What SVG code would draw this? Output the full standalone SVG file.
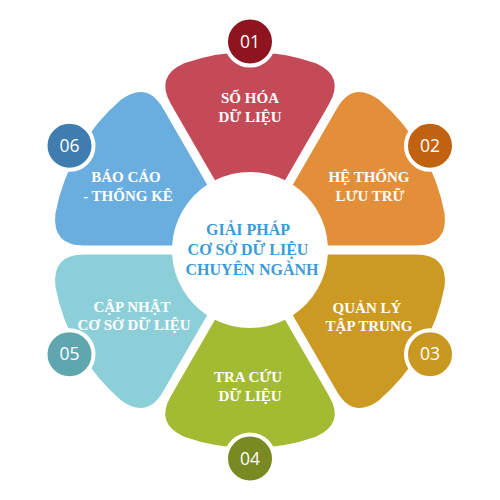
<svg xmlns="http://www.w3.org/2000/svg" xmlns:xlink="http://www.w3.org/1999/xlink" width="500" height="500" viewBox="0 0 500 500">
<style>
.lbl{font-family:"Liberation Serif","Times New Roman",serif;font-weight:bold;font-size:15px;fill:#ffffff;text-anchor:middle}
.ctr{font-family:"Liberation Serif","Times New Roman",serif;font-weight:bold;font-size:16px;fill:#3A9BD8;text-anchor:middle}
.num{font-family:"Open Sans","Noto Sans",sans-serif;font-size:17.5px;fill:#ffffff;text-anchor:middle}
.badge{stroke:#ffffff;stroke-width:4}
</style>
<defs>
<path id="petal" d="M -35.04,-69.69 L -79.1,-146.0 Q -95.08,-173.67 -65.9,-186.7 A 198 198 0 0 1 65.9,-186.7 Q 95.08,-173.67 79.1,-146.0 L 35.04,-69.69 A 78 78 0 0 0 -35.04,-69.69 Z"/>
</defs>
<rect width="500" height="500" fill="#ffffff"/>
<g id="node-01">
<use xlink:href="#petal" href="#petal" transform="translate(250,250)" fill="#C44A57"/>
<circle class="badge" cx="250" cy="41.5" r="24" fill="#8E1420"/>
<text class="num" x="250" y="47.5">01</text>
<text class="lbl" x="250" y="103">SỐ HÓA</text>
<text class="lbl" x="250" y="122">DỮ LIỆU</text>
</g>
<g id="node-02">
<use xlink:href="#petal" href="#petal" transform="translate(250,250) rotate(60)" fill="#E38F3A"/>
<circle class="badge" cx="430" cy="145.8" r="24" fill="#C0620F"/>
<text class="num" x="430" y="151.8">02</text>
<text class="lbl" x="369" y="182">HỆ THỐNG</text>
<text class="lbl" x="370" y="201">LƯU TRỮ</text>
</g>
<g id="node-03">
<use xlink:href="#petal" href="#petal" transform="translate(250,250) rotate(120)" fill="#CC9A22"/>
<circle class="badge" cx="430" cy="354.2" r="24" fill="#C99820"/>
<text class="num" x="430" y="360.2">03</text>
<text class="lbl" x="367" y="313">QUẢN LÝ</text>
<text class="lbl" x="369" y="331">TẬP TRUNG</text>
</g>
<g id="node-04">
<use xlink:href="#petal" href="#petal" transform="translate(250,250) rotate(180)" fill="#A2BB33"/>
<circle class="badge" cx="250" cy="458.5" r="24" fill="#7A8A22"/>
<text class="num" x="250" y="464.5">04</text>
<text class="lbl" x="248" y="382">TRA CỨU</text>
<text class="lbl" x="250" y="401">DỮ LIỆU</text>
</g>
<g id="node-05">
<use xlink:href="#petal" href="#petal" transform="translate(250,250) rotate(240)" fill="#8DCFD9"/>
<circle class="badge" cx="69.5" cy="354.2" r="24" fill="#5FA6AE"/>
<text class="num" x="69.5" y="360.2">05</text>
<text class="lbl" x="132" y="312">CẬP NHẬT</text>
<text class="lbl" x="134" y="330">CƠ SỞ DỮ LIỆU</text>
</g>
<g id="node-06">
<use xlink:href="#petal" href="#petal" transform="translate(250,250) rotate(300)" fill="#6AAEDF"/>
<circle class="badge" cx="69.5" cy="145.8" r="24" fill="#3F7DB0"/>
<text class="num" x="69.5" y="151.8">06</text>
<text class="lbl" x="126" y="182">BÁO CÁO</text>
<text class="lbl" x="128" y="201">- THỐNG KÊ</text>
</g>
<g id="center">
<text class="ctr" x="248" y="235">GIẢI PHÁP</text>
<text class="ctr" x="248" y="255">CƠ SỞ DỮ LIỆU</text>
<text class="ctr" x="252" y="275">CHUYÊN NGÀNH</text>
</g>
<g id="connectors"/>
</svg>
